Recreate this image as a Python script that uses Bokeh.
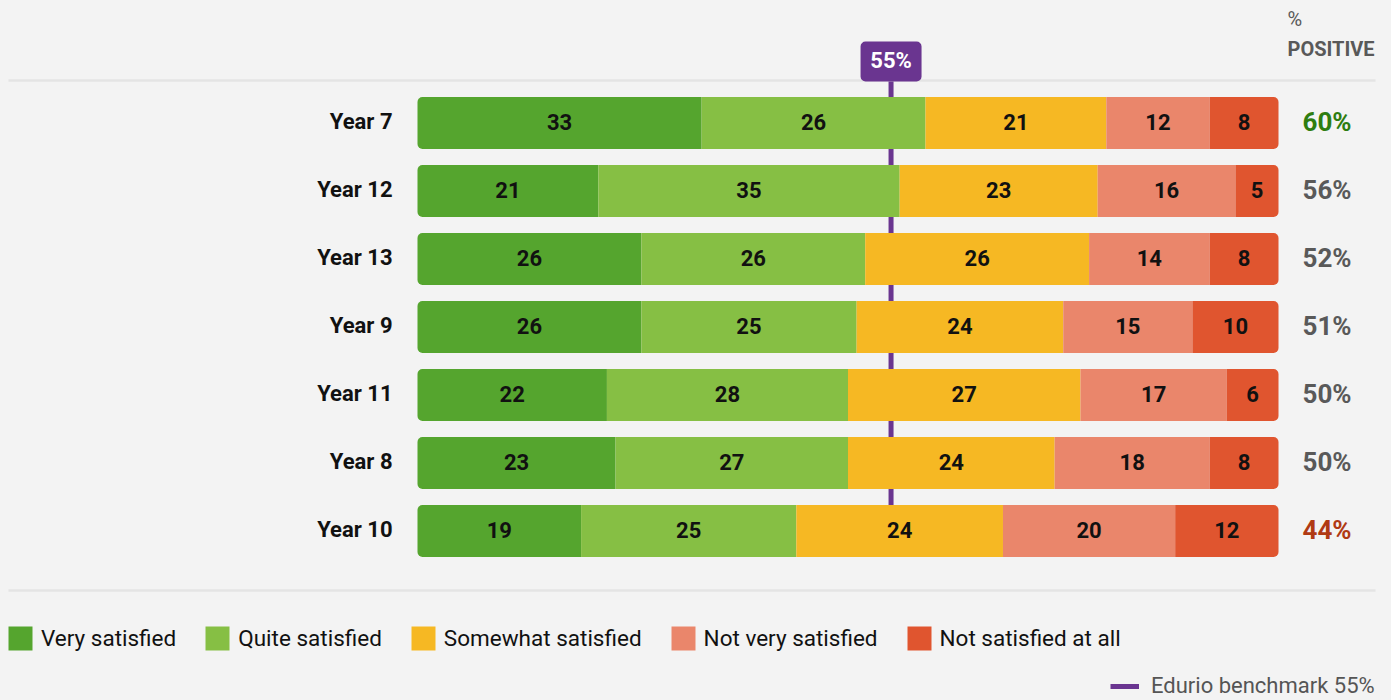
from bokeh.plotting import figure
from bokeh.models import ColumnDataSource, Range1d, Legend, LegendItem, GlobalInlineStyleSheet
from bokeh.core.properties import value
from bokeh.embed import file_html
from bokeh.resources import INLINE

# ---------------- data ----------------
years = ["Year 7", "Year 12", "Year 13", "Year 9", "Year 11", "Year 8", "Year 10"]
categories = ["Very satisfied", "Quite satisfied", "Somewhat satisfied",
              "Not very satisfied", "Not satisfied at all"]
very_satisfied = [33, 21, 26, 26, 22, 23, 19]
quite_satisfied = [26, 35, 26, 25, 28, 27, 25]
somewhat_satisfied = [21, 23, 26, 24, 27, 24, 24]
not_very_satisfied = [12, 16, 14, 15, 17, 18, 20]
not_satisfied_at_all = [8, 5, 8, 10, 6, 8, 12]
percent_positive = [60, 56, 52, 51, 50, 50, 44]
benchmark = 55

# ---------------- style ----------------
colors = ["#55a52e", "#86bf44", "#f6b823", "#ea866b", "#e0552f"]
PURPLE = "#6a3590"
BG = "#f3f3f3"
FONT_NAME = "Roboto"
FONT = value(FONT_NAME)
TY = -1.5  # small vertical nudge for text baseline

# ---------------- layout (page pixels) ----------------
W, H = 1385, 698
BAR_L, BAR_R = 417, 1278
ROW0, STEP, BAR_PX = 122.5, 68, 52
ppu = (BAR_R - BAR_L) / 100.0


def ypx(py):
    return (py - ROW0) / STEP


def xpx(px):
    return (px - BAR_L) / ppu


p = figure(width=W, height=H,
           x_range=Range1d(xpx(0), xpx(W)),
           y_range=Range1d(ypx(H), ypx(0)),
           output_backend="svg", toolbar_location=None,
           x_axis_location=None, y_axis_location=None, min_border=0,
           background_fill_color=BG, border_fill_color=BG, outline_line_color=None)
for g in p.grid:
    g.visible = False
p.stylesheets = [GlobalInlineStyleSheet(css="body{background-color:%s;}" % BG)]

# separator lines
p.segment(x0=[xpx(8), xpx(8)], x1=[xpx(1375), xpx(1375)], y0=[ypx(80), ypx(590)],
          y1=[ypx(80), ypx(590)], line_color="#e4e4e4", line_width=2.5)

rows = list(range(len(years)))

# benchmark line (behind bars)
bench = p.segment(x0=[benchmark], x1=[benchmark], y0=[ypx(81)], y1=[rows[-1]],
                  line_color=PURPLE, line_width=5)

series = [very_satisfied, quite_satisfied, somewhat_satisfied,
          not_very_satisfied, not_satisfied_at_all]
cum = [0] * len(years)
items = []
last = len(series) - 1
for ci, vals in enumerate(series):
    left = cum[:]
    right = [l + v for l, v in zip(left, vals)]
    cum = right
    src = ColumnDataSource(dict(y=rows, left=left, right=right,
                                mid=[(l + r) / 2 for l, r in zip(left, right)],
                                lab=[str(v) for v in vals]))
    if ci == 0:
        rad = (5, 0, 0, 5)
    elif ci == last:
        rad = (0, 5, 5, 0)
    else:
        rad = 0
    r = p.hbar(y="y", left="left", right="right", height=BAR_PX / STEP, source=src,
               fill_color=colors[ci], line_color=None, border_radius=rad)
    items.append(LegendItem(label=categories[ci], renderers=[r]))
    p.text(x="mid", y="y", text="lab", source=src, text_align="center", y_offset=TY,
           text_baseline="middle", text_font=FONT, text_font_style="bold",
           text_font_size="22px", text_color="#111111")

# year labels
ysrc = ColumnDataSource(dict(x=[0] * len(years), y=rows, t=years))
p.text(x="x", y="y", text="t", source=ysrc, x_offset=-25, y_offset=TY, text_align="right",
       text_baseline="middle", text_font=FONT, text_font_style="bold",
       text_font_size="22px", text_color="#111111")


# % positive
def pos_color(v):
    if v >= benchmark + 5:
        return "#2e7d10"
    if v <= benchmark - 10:
        return "#b03a13"
    return "#595959"


psrc = ColumnDataSource(dict(x=[100] * len(years), y=rows,
                             t=["%d%%" % v for v in percent_positive],
                             c=[pos_color(v) for v in percent_positive]))
p.text(x="x", y="y", text="t", source=psrc, x_offset=24, y_offset=TY, text_align="left",
       text_baseline="middle", text_font=FONT, text_font_style="bold",
       text_font_size="26px", text_color="c")

# header
p.text(x=[100], y=[ypx(18)], text=["%"], x_offset=9, text_align="left",
       text_baseline="middle", text_font=FONT, text_font_size="20px",
       text_color="#595959")
p.text(x=[100], y=[ypx(48)], text=["POSITIVE"], x_offset=9, text_align="left",
       text_baseline="middle", text_font=FONT, text_font_style="bold",
       text_font_size="20px", text_color="#595959")

# benchmark label box
p.rect(x=[benchmark], y=[ypx(61)], width=61, height=40, width_units="screen",
       height_units="screen", fill_color=PURPLE, line_color=None, border_radius=5)
p.text(x=[benchmark], y=[ypx(61)], text=["%d%%" % benchmark], text_align="center",
       y_offset=TY, text_baseline="middle", text_font=FONT, text_font_style="bold",
       text_font_size="22px", text_color="white")

# legends
leg = Legend(items=items, orientation="horizontal", location=(5, 45),
             glyph_width=30, glyph_height=30, label_standoff=6, spacing=26,
             padding=0, margin=0, border_line_color=None, background_fill_alpha=0,
             label_text_font=FONT_NAME, label_text_font_size="22.5px",
             label_text_color="#111111")
p.add_layout(leg)

leg2 = Legend(items=[LegendItem(label="Edurio benchmark %d%%" % benchmark, renderers=[bench])],
              orientation="horizontal", location=(1110, 0),
              glyph_width=29, glyph_height=20, label_standoff=12,
              padding=0, margin=0, border_line_color=None, background_fill_alpha=0,
              label_text_font=FONT_NAME, label_text_font_size="22px",
              label_text_color="#555555")
p.add_layout(leg2)

open("out.html", "w").write(file_html(p, INLINE))
